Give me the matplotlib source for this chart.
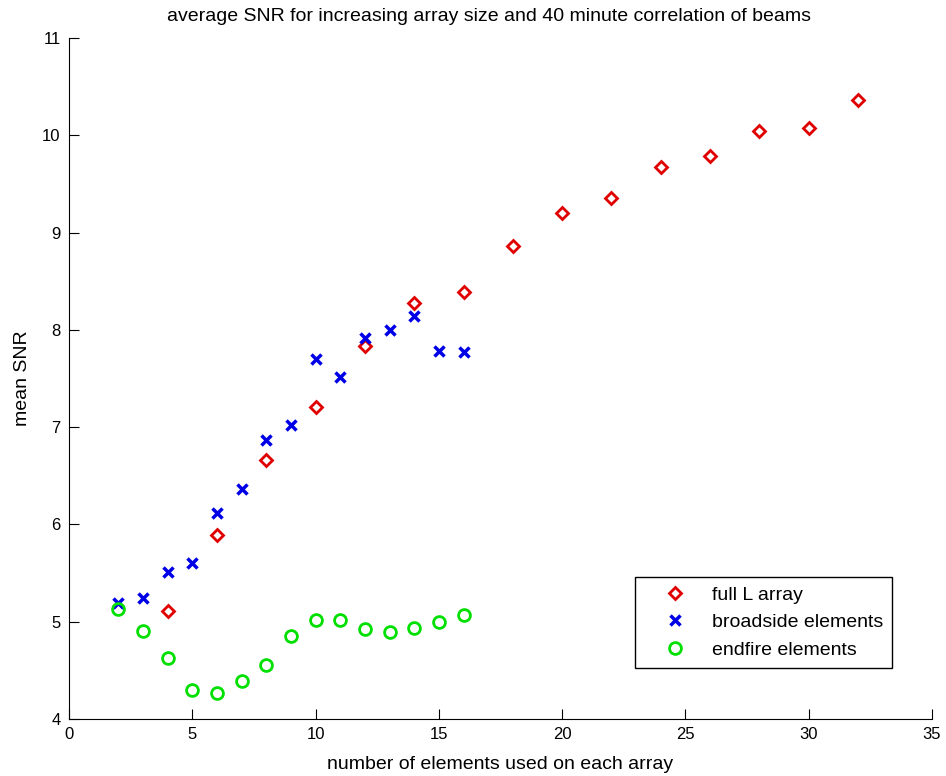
import numpy as np
import matplotlib
matplotlib.use("Agg")
import matplotlib.pyplot as plt

plt.rcParams['font.family'] = ['Liberation Sans', 'DejaVu Sans']

# mean SNR for the full L array (even sizes only)
full_n = [4, 6, 8, 10, 12, 14, 16, 18, 20, 22, 24, 26, 28, 30, 32]
full_snr = [5.11, 5.89, 6.66, 7.21, 7.83, 8.28, 8.39, 8.86, 9.20, 9.36,
            9.67, 9.79, 10.04, 10.08, 10.36]

# broadside and endfire arms, 2..16 elements
arm_n = [2, 3, 4, 5, 6, 7, 8, 9, 10, 11, 12, 13, 14, 15, 16]
broad_snr = [5.19, 5.24, 5.51, 5.60, 6.12, 6.36, 6.87, 7.02, 7.70, 7.52,
             7.92, 8.00, 8.14, 7.78, 7.77]
end_snr = [5.13, 4.90, 4.63, 4.30, 4.27, 4.39, 4.55, 4.85, 5.02, 5.02,
           4.92, 4.89, 4.94, 5.00, 5.07]

W, H = 946, 776
fig = plt.figure(figsize=(W / 100, H / 100), dpi=100)
ax = fig.add_axes([69 / W, 1 - 719 / H, (932 - 69) / W, (719 - 38) / H])

ax.plot(full_n, full_snr, linestyle='none', marker='D', ms=6.5, mew=2,
        mfc='none', mec='#e00000', label='full L array')
ax.plot(arm_n, broad_snr, linestyle='none', marker='x', ms=7, mew=2.5,
        color='#0000e6', label='broadside elements')
ax.plot(arm_n, end_snr, linestyle='none', marker='o', ms=8.5, mew=2,
        mfc='none', mec='#00e000', label='endfire elements')

ax.set_xlim(0, 35)
ax.set_ylim(4, 11)
ax.set_xticks(np.arange(0, 36, 5))
ax.set_yticks(np.arange(4, 12, 1))
ax.spines['top'].set_visible(False)
ax.spines['right'].set_visible(False)
ax.tick_params(direction='in', length=7, labelsize=12, pad=6)

ax.set_title('average SNR for increasing array size and 40 minute correlation of beams',
             fontsize=14, pad=12, x=0.487)
ax.set_xlabel('number of elements used on each array', fontsize=14, labelpad=10)
ax.set_ylabel('mean SNR', fontsize=14, labelpad=8)

leg = ax.legend(loc='upper left', bbox_to_anchor=(635 / W, 1 - 577 / H),
                bbox_transform=fig.transFigure, fontsize=14, fancybox=False,
                framealpha=1, edgecolor='black', borderpad=0.47,
                handletextpad=0.29, labelspacing=0.51, handlelength=3.2,
                borderaxespad=0)
leg.get_frame().set_linewidth(1.0)

fig.savefig('out.png', dpi=100)
